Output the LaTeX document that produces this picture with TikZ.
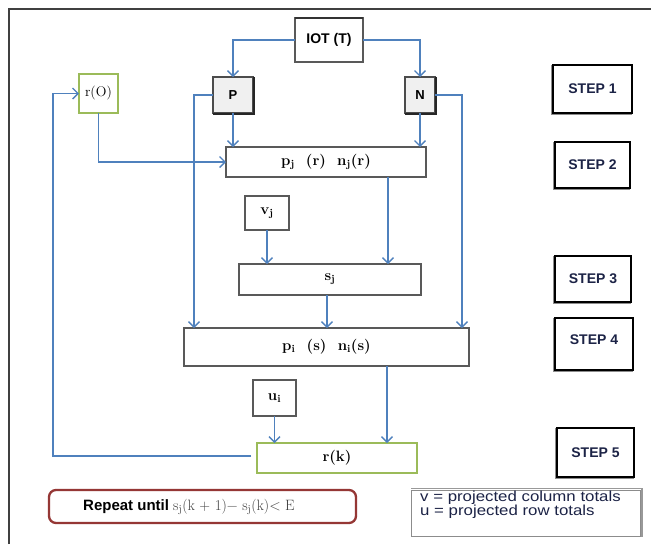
\documentclass[tikz,border=0pt]{standalone}
\usepackage{fontspec}
\setsansfont{Liberation Sans}
\usetikzlibrary{arrows.meta,calc}
\definecolor{linkblue}{HTML}{4F81BD}
\definecolor{boxgreen}{HTML}{9BBB59}
\definecolor{loopred}{HTML}{953735}
\definecolor{inkblue}{HTML}{1C2346}
\definecolor{edgegray}{HTML}{595959}
\tikzset{
  link/.style={draw=linkblue, line width=1.3pt,
    -{Straight Barb[length=5.5pt,width=11pt]}},
  plainbox/.style={draw=edgegray, line width=1.1pt, fill=white,
    inner sep=0pt, outer sep=0pt, font=\rmfamily\bfseries\fontsize{15}{17}\selectfont},
  greybox/.style={plainbox, fill=black!6, draw=black!70,
    font=\sffamily\bfseries\fontsize{13}{15}\selectfont},
  greenbox/.style={plainbox, draw=boxgreen},
  stepbox/.style={draw=black, line width=1.8pt, fill=white, inner sep=0pt,
    outer sep=0pt, text=inkblue,
    font=\sffamily\bfseries\fontsize{14}{16}\selectfont},
  darkedge/.style={black!85, line width=1.4pt},
  greyedge/.style={black!45, line width=1.6pt},
}
\begin{document}
\begin{tikzpicture}[x=1pt, y=-1pt]
\useasboundingbox (0,0) rectangle (651,544);
\fill[white] (0,0) rectangle (651,544);

% page frame
\draw[black!75, line width=1.8pt] (9,544) -- (9,9) -- (651,9);

% source table and its two parts
\node[plainbox, minimum width=68pt, minimum height=44pt,
  font=\sffamily\bfseries\fontsize{14}{16}\selectfont] (iot) at (329,40) {IOT (T)};
\draw[black!80, line width=1.5pt] (iot.north west) -- (iot.north east);
\node[greybox, minimum width=40pt, minimum height=36pt] (p) at (233,95) {P};
\node[greybox, minimum width=30pt, minimum height=36pt] (n) at (420,95) {N};
\foreach \b in {p,n}
  \draw[darkedge] ([xshift=0.8pt]\b.north east) -- ([shift={(0.8pt,-0.8pt)}]\b.south east)
    -- ([yshift=-0.8pt]\b.south west);
\node[greenbox, line width=2.3pt, minimum width=39pt, minimum height=39pt,
  font=\rmfamily\fontsize{14}{16}\selectfont] (r0) at (98.5,93.5) {r(O)};

% iteration boxes
\node[plainbox, minimum width=200pt, minimum height=30pt] (pjr) at (326,162)
  {p\textsubscript{j}\ \ (r)\ \ n\textsubscript{j}(r)};
\node[plainbox, minimum width=44pt, minimum height=34pt] (vj) at (267,213)
  {\raisebox{-6pt}{v\textsubscript{j}}};
\node[plainbox, minimum width=182pt, minimum height=31pt] (sj) at (330,279.5)
  {\raisebox{-3pt}{s\textsubscript{j}}};
\node[plainbox, minimum width=285pt, minimum height=38pt] (pis) at (326.5,347)
  {\raisebox{-2pt}{p\textsubscript{i}\ \ (s)\ \ n\textsubscript{i}(s)}};
\node[plainbox, minimum width=43pt, minimum height=36pt] (ui) at (274.5,398)
  {\raisebox{-7pt}{u\textsubscript{i}}};
\node[greenbox, line width=1.6pt, minimum width=160pt, minimum height=30pt] (rk) at (337,458)
  {\raisebox{-6pt}{r(k)}};

% step markers
\node[stepbox, minimum width=79pt, minimum height=48pt] (st1) at (592.5,89) {\raisebox{-6pt}{STEP 1}};
\node[stepbox, minimum width=75pt, minimum height=46pt] (st2) at (592.5,165) {\raisebox{-7pt}{STEP 2}};
\node[stepbox, minimum width=76pt, minimum height=46pt] (st3) at (593,279) {\raisebox{-2pt}{STEP 3}};
\node[stepbox, minimum width=78pt, minimum height=52pt] (st4) at (594,344) {\raisebox{9pt}{STEP 4}};
\node[stepbox, minimum width=77pt, minimum height=49pt] (st5) at (595.5,452.5) {\raisebox{-6pt}{STEP 5}};
\foreach \b in {st1,st2,st3,st4,st5}
  \draw[greyedge] ([xshift=-1.6pt]\b.north west) -- ([shift={(-1.6pt,-1.6pt)}]\b.south west)
    -- ([yshift=-1.6pt]\b.south east);

% stopping rule
\node[draw=loopred, line width=2.3pt, rounded corners=7pt, minimum width=307pt,
  minimum height=33pt, inner sep=0pt] (rep) at (202.5,506.5) {};
\node[anchor=west, inner sep=0pt, font=\sffamily\bfseries\fontsize{15}{17}\selectfont] (reptext) at (83,507)
  {Repeat until {\rmfamily\mdseries\color{black!75}s\textsubscript{j}(k + 1)− s\textsubscript{j}(k)< E}};

% legend
\node[draw=black!45, line width=1pt, fill=white, minimum width=229pt, minimum height=46pt,
  inner sep=0pt] (key) at (525.5,513) {};
\draw[greyedge, black!40] ([xshift=1.2pt]key.south east) -- ([shift={(1.2pt,1.2pt)}]key.north east)
  -- ([yshift=1.2pt]key.north west);
\node[anchor=north west, inner sep=0pt, align=left, text=inkblue,
  font=\sffamily\fontsize{14.5}{13}\selectfont] (keytext) at (420,490.5)
  {\scalebox{1.16}[1]{v = projected column totals}\\\scalebox{1.16}[1]{u = projected row totals}};

% connectors
\draw[link] (iot.west) -| (p.north);
\draw[link] (iot.east) -| (n.north);
\coordinate (pdrop) at ($(pis.north west)+(10,0)$);
\coordinate (ndrop) at ($(pis.north east)+(-7,0)$);
\draw[link] (p.west) -| (pdrop);
\draw[link] (n.east) -| (ndrop);
\draw[link] (p.south) -- (p.south |- pjr.north);
\draw[link] (n.south) -- (n.south |- pjr.north);
\draw[link] (r0.south) |- (pjr.west);
\coordinate (pjrout) at ($(pjr.south west)+(162,0)$);
\draw[link] (pjrout) -- (pjrout |- sj.north);
\draw[link] (vj.south) -- (vj.south |- sj.north);
\coordinate (sjout) at ($(sj.south west)+(88,0)$);
\draw[link] (sjout) -- (sjout |- pis.north);
\coordinate (pisout) at ($(pis.south west)+(203,0)$);
\draw[link] (pisout) -- (pisout |- rk.north);
\draw[link] (ui.south) -- (ui.south |- rk.north);
\coordinate (fbstart) at ($(rk.west)+(-6,-2)$);
\coordinate (fbcorner) at ($(r0.west)+(-26,0)$);
\draw[link] (fbstart) -| (fbcorner) -- (r0.west);
\end{tikzpicture}
\end{document}
